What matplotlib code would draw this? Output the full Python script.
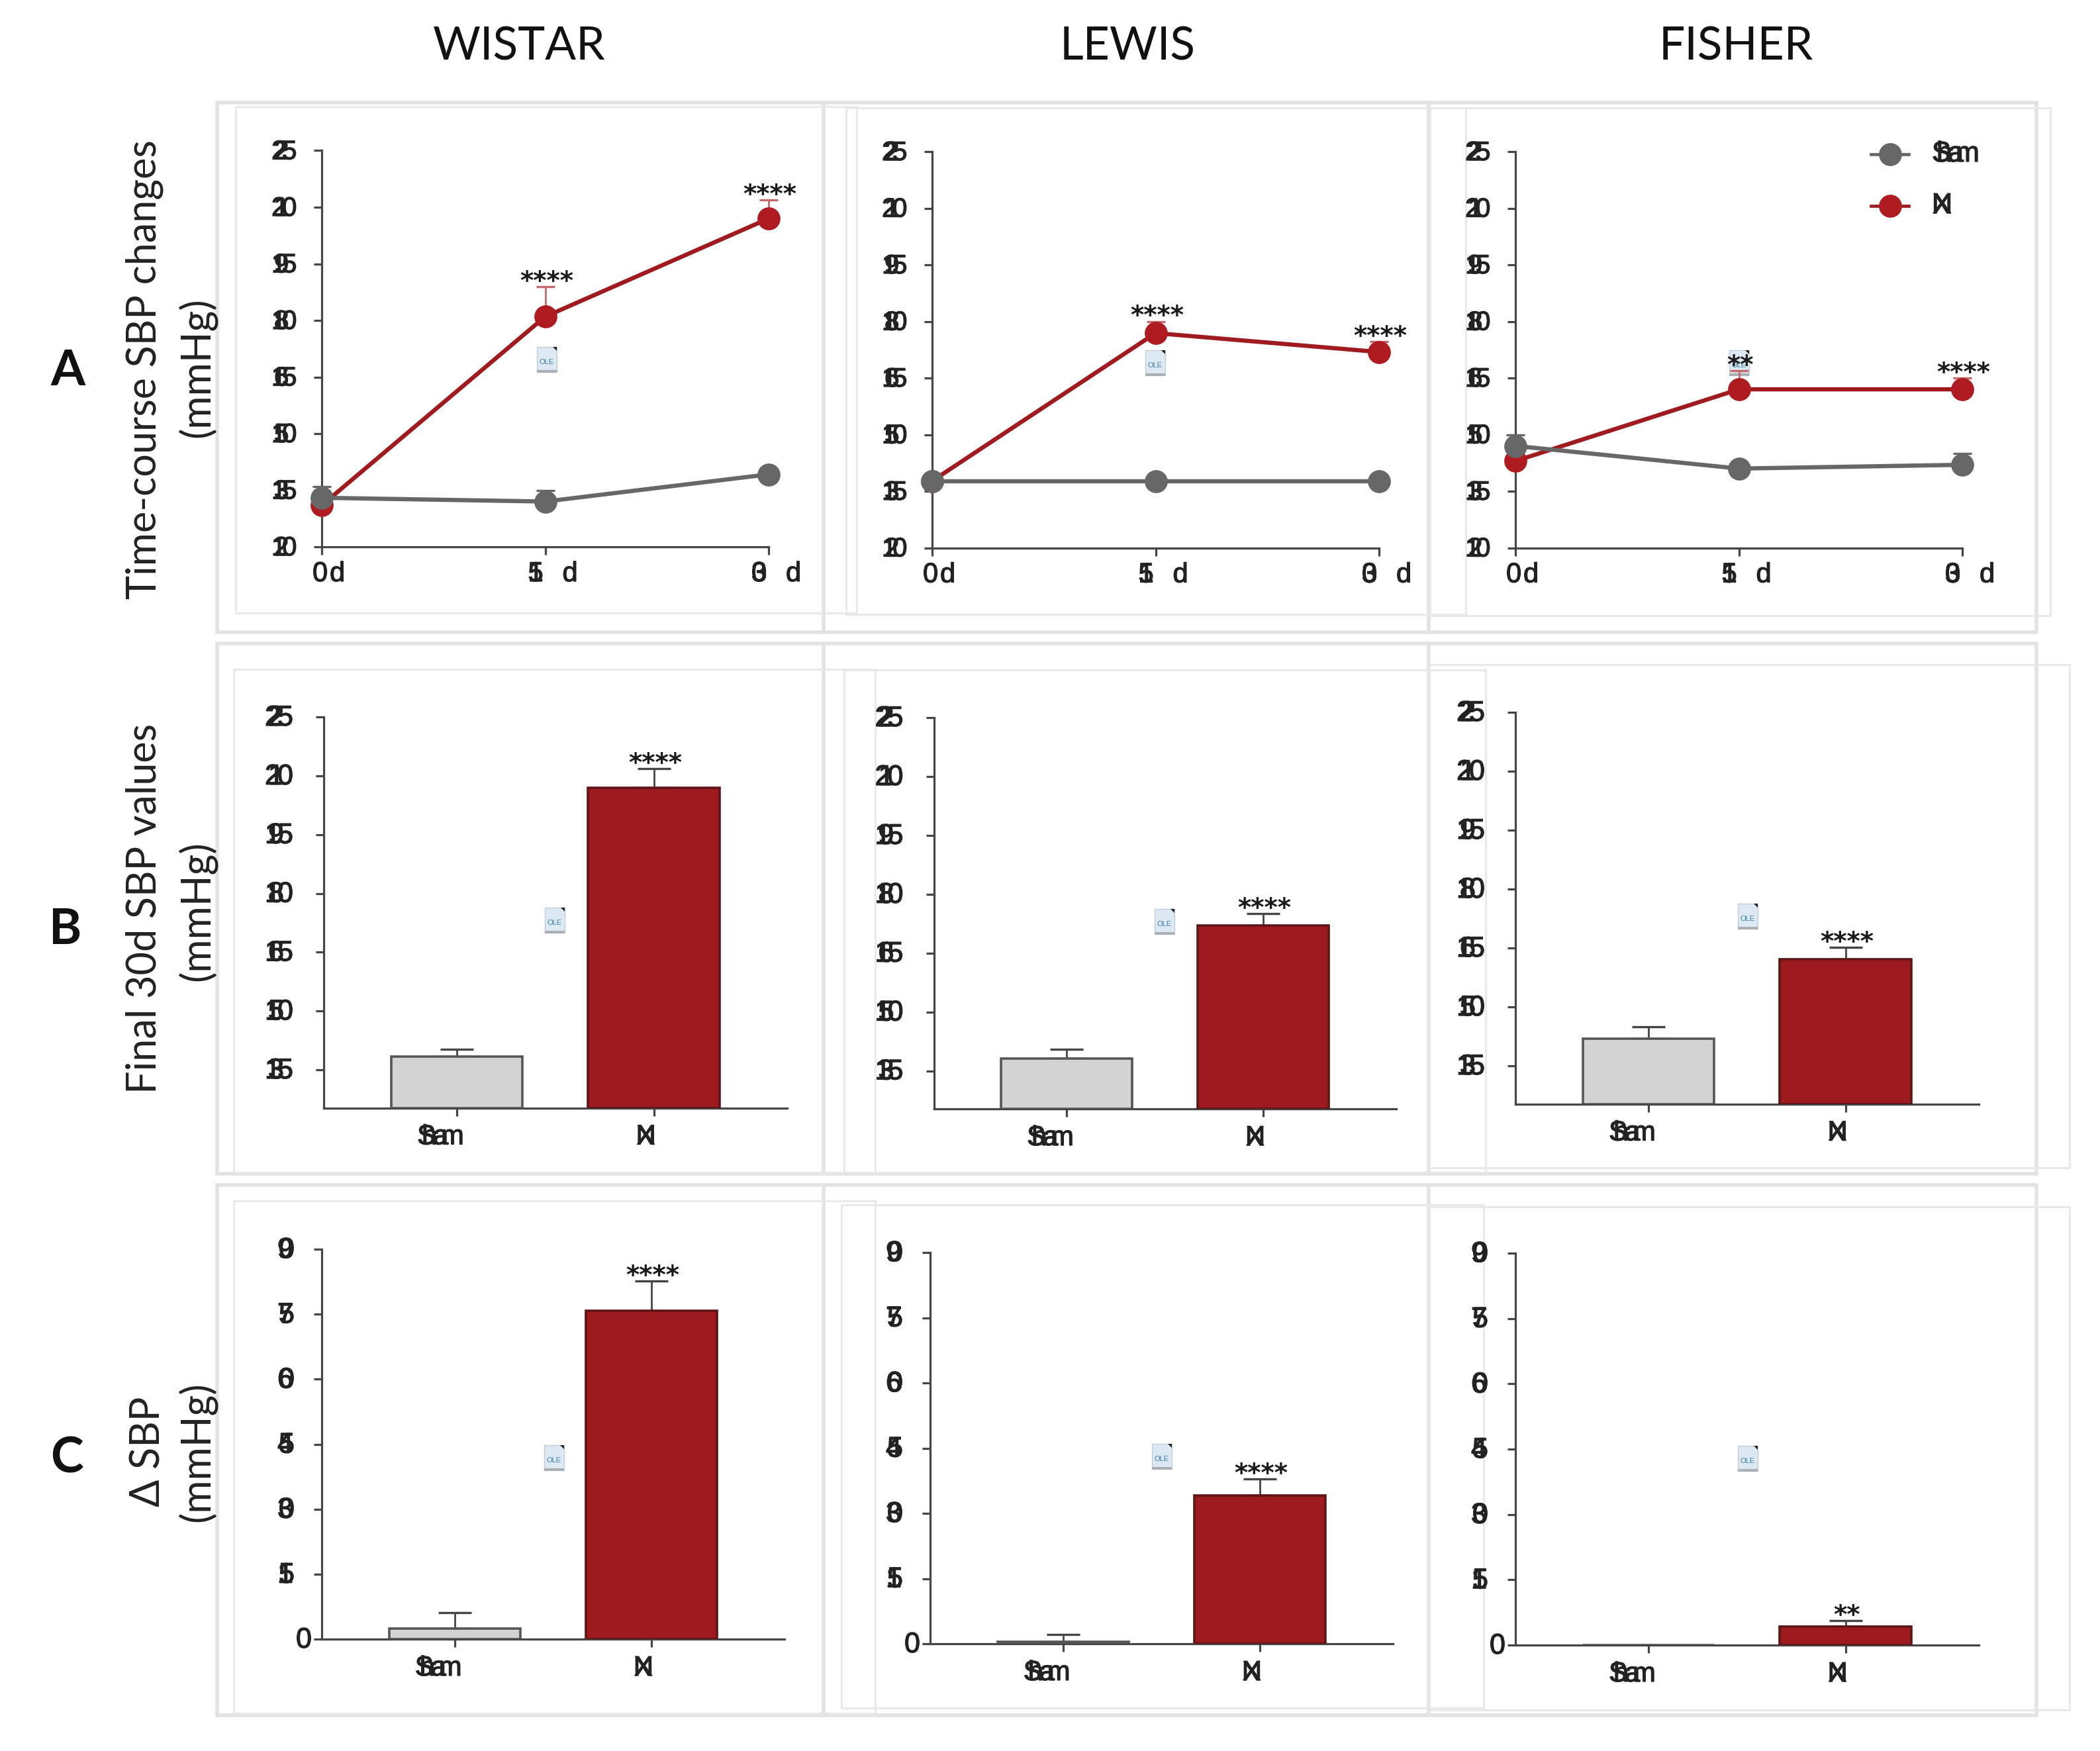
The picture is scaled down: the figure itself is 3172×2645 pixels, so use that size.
#!/bin/python3

import matplotlib
matplotlib.use('Agg')
import matplotlib.pyplot as plt
import matplotlib.patheffects as pe
from matplotlib.lines import Line2D
from matplotlib.patches import Polygon, Rectangle

W, H = 3172, 2645

strains = ['WISTAR', 'LEWIS', 'FISHER']
groups = ['Sham', 'NX']
days = [0, 15, 30]
day_labels = ['0d', '15 d', '30 d']

# row A, time course (mmHg)
sham_course = [[133, 132, 139.2], [137.7, 137.7, 137.7], [147, 141, 142]]
sham_course_err = [[3, 3, 0], [0, 0, 0], [3, 0, 3]]
nx_course = [[131, 181, 207], [137.7, 176.9, 171.9], [143, 162, 162]]
nx_course_err = [[0, 8, 5], [0, 3.1, 2.7], [0, 5, 3]]
course_stars = [['', '****', '****'], ['', '****', '****'], ['', '**', '****']]

# row B, final values
final_sham = [138.4, 138.2, 142]
final_sham_err = [1.9, 2.3, 3]
final_nx = [207, 172, 162.2]
final_nx_err = [4.8, 3, 3]

# row C, delta
delta_sham = [2.5, 0.5, 0]
delta_sham_err = [3.6, 1.6, 0]
delta_nx = [75.8, 34.1, 4.3]
delta_nx_err = [6.8, 3.8, 1.3]
delta_stars = ['****', '****', '**']

course_ticks = [120, 135, 150, 165, 180, 195, 210, 225]
final_ticks = [135, 150, 165, 180, 195, 210, 225]
delta_ticks = [0, 15, 30, 45, 60, 75, 90]

RED = '#a01b1f'
MARK_RED = '#ae1c22'
GRAY = '#676767'
AXIS = '#454545'
FRAME = '#e3e3e3'
TEXT_FONT = ['Lato', 'DejaVu Sans']
NUM_FONT = 'Liberation Sans'
STROKE = [pe.withStroke(linewidth=0.9, foreground='#222222')]

fig = plt.figure(figsize=(W / 100, H / 100), dpi=100, facecolor='white')


def px_axes(left, top, right, bottom):
    ax = fig.add_axes([left / W, 1 - bottom / H, (right - left) / W, (bottom - top) / H])
    ax.patch.set_visible(False)
    for side in ['top', 'right']:
        ax.spines[side].set_visible(False)
    for side in ['left', 'bottom']:
        ax.spines[side].set_linewidth(2.3)
        ax.spines[side].set_color(AXIS)
    ax.tick_params(length=8.6, width=2.3, color=AXIS, labelleft=False, labelbottom=False)
    return ax


def squeezed(ax, text, x, y, trans, dxs, dy, size, color='#222222'):
    # the source figure has its letters piled up, so place them one by one
    for ch, dx in zip(text, dxs):
        if ch == ' ':
            continue
        ax.annotate(ch, xy=(x, y), xycoords=trans, xytext=(dx, dy), textcoords='offset pixels',
                    ha='left', va='center', fontsize=size, family=NUM_FONT, color=color,
                    annotation_clip=False, path_effects=STROKE)


def y_labels(ax, ticks, left, size, step):
    ax.set_yticks(ticks)
    trans = ax.get_yaxis_transform()
    for t in ticks:
        s = str(t)
        if len(s) == 3:
            dxs = [left, left + step[0], left + step[1]]
        elif len(s) == 2:
            dxs = [left, left + 2]
        else:
            dxs = [left + 28]
        squeezed(ax, s, 0, t, trans, dxs, -2, size)


def stars(ax, text, x, y, dy=-4):
    ax.annotate(text, xy=(x, y), xytext=(2, dy), textcoords='offset pixels', ha='center',
                va='baseline', fontsize=28, family='DejaVu Sans', fontweight='bold', color='#1a1a1a')


def course_panel(i, left, top, right, bottom):
    ax = px_axes(left, top, right, bottom)
    ax.set_xlim(days[0], days[-1])
    ax.set_ylim(course_ticks[0], course_ticks[-1])
    ax.set_xticks(days)
    y_labels(ax, course_ticks, -76, 29, (4, 16))
    ax.errorbar(days, nx_course[i], yerr=[[0, 0, 0], nx_course_err[i]], fmt='none', ecolor='#c46a6c',
                elinewidth=2.0, capsize=10, capthick=2.4, zorder=3, clip_on=False)
    ax.errorbar(days, sham_course[i], yerr=[[0, 0, 0], sham_course_err[i]], fmt='none', ecolor=GRAY,
                elinewidth=2.0, capsize=10, capthick=2.4, zorder=3, clip_on=False)
    ax.plot(days, nx_course[i], color=RED, lw=4.6, marker='o', ms=24, mfc=MARK_RED, mec=MARK_RED,
            zorder=4, clip_on=False)
    ax.plot(days, sham_course[i], color=GRAY, lw=4.6, marker='o', ms=24, mfc=GRAY, mec=GRAY,
            zorder=5, clip_on=False)
    for d, s, v, e in zip(days, course_stars[i], nx_course[i], nx_course_err[i]):
        if s:
            stars(ax, s, d, v + e)
    trans = ax.get_xaxis_transform()
    for d, lab in zip(days, day_labels):
        if lab == '0d':
            squeezed(ax, lab, d, 0, trans, [-14, 12], -41, 30)
        else:
            squeezed(ax, lab, d, 0, trans, [-26, -26, 0, 26], -41, 30)
    return ax


def bar_panel(sham, sham_err, nx, nx_err, star, ticks, ymin, left, top, right, bottom, size):
    ax = px_axes(left, top, right, bottom)
    ax.set_xlim(-0.676, 1.677)
    ax.set_ylim(ymin, ticks[-1])
    ax.set_xticks([0, 1])
    if len(str(ticks[-1])) == 3:
        y_labels(ax, ticks, -89, size, (5, 19))
    else:
        y_labels(ax, ticks, -67, size, (0, 0))
    ax.bar([0, 1], [sham - ymin, nx - ymin], bottom=ymin, width=0.667, color=['#d3d3d3', '#9d1b1e'],
           edgecolor=['#555555', '#5e1518'], linewidth=2.6, zorder=3)
    for x, v, e in [(0, sham, sham_err), (1, nx, nx_err)]:
        if e > 0:
            ax.errorbar([x], [v], yerr=[[0], [e]], fmt='none', ecolor=AXIS, elinewidth=2.0,
                        capsize=18, capthick=2.4, zorder=2)
    stars(ax, star, 1, nx + nx_err)
    trans = ax.get_xaxis_transform()
    squeezed(ax, groups[0], 0, 0, trans, [-60, -53, -36, -24], -44, 30)
    squeezed(ax, groups[1], 1, 0, trans, [-27, -26], -44, 30)
    return ax


# frames behind everything
outer_rows = [(155, 955), (972, 1773), (1790, 2591)]
for top, bottom in outer_rows:
    fig.add_artist(Rectangle((328 / W, 1 - bottom / H), (3076 - 328) / W, (bottom - top) / H,
                             fill=False, ec=FRAME, lw=4, transform=fig.transFigure, zorder=-3))
    for x in [1244, 2158]:
        fig.add_artist(Line2D([x / W, x / W], [1 - top / H, 1 - bottom / H], color=FRAME, lw=4, zorder=-3))

inner_frames = [(356, 161, 1294, 926), (1278, 163, 2214, 928), (2160, 163, 3097, 930),
                (353, 1011, 1322, 1771), (1275, 1012, 2244, 1771), (2156, 1004, 3126, 1764),
                (353, 1814, 1322, 2588), (1271, 1820, 2241, 2580), (2156, 1823, 3126, 2583)]
for l, t, r, b in inner_frames:
    fig.add_artist(Rectangle((l / W, 1 - b / H), (r - l) / W, (b - t) / H, fill=False, ec='#e8e8e8',
                             lw=2, transform=fig.transFigure, zorder=-2))

# embedded object placeholders
ole_icons = [(826, 543), (1745, 548), (2627, 548), (838, 1390), (1759, 1392), (2640, 1384),
             (837, 2202), (1755, 2200), (2640, 2203)]
for cx, cy in ole_icons:
    fig.add_artist(Rectangle(((cx - 15) / W, 1 - (cy + 19) / H), 30 / W, 38 / H, fc='#dce8f2', ec='#c4ccd4',
                             lw=1, transform=fig.transFigure, zorder=-1))
    fig.add_artist(Rectangle(((cx - 15) / W, 1 - (cy + 20) / H), 30 / W, 4 / H, fc='#a9afb4', ec='none',
                             transform=fig.transFigure, zorder=-1))
    fig.add_artist(Polygon([((cx + 9) / W, 1 - (cy - 19) / H), ((cx + 15) / W, 1 - (cy - 19) / H),
                            ((cx + 15) / W, 1 - (cy - 13) / H)], fc='#222222', ec='none',
                           transform=fig.transFigure, zorder=-1))
    fig.text(cx / W, 1 - (cy + 4) / H, 'OLE', fontsize=8, color='#3c7fa8', ha='center', va='center',
             family=NUM_FONT, zorder=-1)

course_boxes = [(486, 227.5, 1161, 826), (1408, 229, 2083, 827.5), (2289, 229, 2964, 827.5)]
for i, box in enumerate(course_boxes):
    course_panel(i, *box)

final_boxes = [(489, 1083, 1189, 1673.5), (1410.5, 1084, 2109, 1675), (2289, 1076, 2989, 1667.6)]
for i, box in enumerate(final_boxes):
    bar_panel(final_sham[i], final_sham_err[i], final_nx[i], final_nx_err[i], '****', final_ticks, 125.3,
              *box, 31)

delta_boxes = [(486, 1887, 1185, 2476), (1405, 1892, 2104, 2483), (2289, 1893, 2989, 2485)]
for i, box in enumerate(delta_boxes):
    bar_panel(delta_sham[i], delta_sham_err[i], delta_nx[i], delta_nx_err[i], delta_stars[i], delta_ticks, 0,
              *box, 31)

# legend in the FISHER panel
for y, col, mcol, name, dxs in [(233, GRAY, GRAY, groups[0], [0, 7, 24, 36]),
                                (311, RED, MARK_RED, groups[1], [0, 1])]:
    fig.add_artist(Line2D([2826 / W, 2883 / W], [1 - y / H, 1 - y / H], color=col, lw=3.4))
    fig.add_artist(Line2D([2855 / W], [1 - y / H], color=col, marker='o', ms=24, mfc=mcol, mec=mcol, ls='none'))
    for ch, dx in zip(name, dxs):
        fig.text((2918 + dx) / W, 1 - y / H, ch, fontsize=31, family=NUM_FONT, color='#222222',
                 ha='left', va='center', path_effects=STROKE)

# column titles
for name, x in zip(strains, [784, 1703, 2622]):
    fig.text(x / W, 1 - 71 / H, name, fontsize=50, family=TEXT_FONT, ha='center', va='center', color='#111111')

# row letters
for name, x, y in [('A', 102, 560), ('B', 99, 1404), ('C', 101, 2203)]:
    fig.text(x / W, 1 - y / H, name, fontsize=54, family=TEXT_FONT, fontweight='bold', ha='center', va='center',
             color='#111111')

# row titles
row_titles = [('Time-course SBP changes', 218, 558), ('(mmHg)', 297, 555),
              ('Final 30d SBP values', 218, 1372), ('(mmHg)', 297, 1376),
              ('Δ SBP', 224, 2193), ('(mmHg)', 297, 2193)]
for name, x, y in row_titles:
    fig.text(x / W, 1 - y / H, name, fontsize=44, family=TEXT_FONT, rotation=90, ha='center', va='center',
             color='#222222')

fig.savefig('out.png', dpi=100)
